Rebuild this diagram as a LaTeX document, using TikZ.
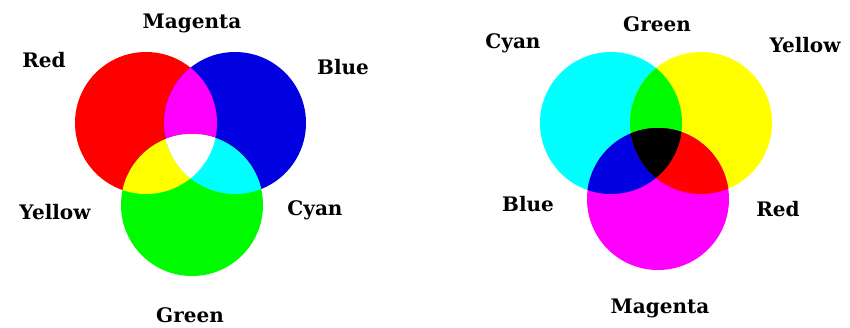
\documentclass[tikz,border=0pt]{standalone}
\usepackage{fontspec}
\setmainfont{DejaVu Serif}
\definecolor{cR}{RGB}{255,0,0}
\definecolor{cG}{RGB}{0,250,0}
\definecolor{cB}{RGB}{0,0,225}
\definecolor{cC}{RGB}{0,255,255}
\definecolor{cM}{RGB}{255,0,255}
\definecolor{cY}{RGB}{255,255,0}
\begin{document}
\begin{tikzpicture}[x=1pt,y=-1pt,
  lbl/.style={font=\fontsize{20}{24}\selectfont\bfseries, inner sep=0pt, text=black}]
\useasboundingbox (0,0) rectangle (850,327);
\def\R{71}
% ---------- left: additive ----------
\coordinate (LR) at (146,123);
\coordinate (LB) at (235,123);
\coordinate (LG) at (192,205);
\fill[cR] (LR) circle (\R);
\fill[cB] (LB) circle (\R);
\fill[cG] (LG) circle (\R);
\begin{scope}\clip (LR) circle (\R); \fill[cM] (LB) circle (\R); \end{scope}
\begin{scope}\clip (LR) circle (\R); \fill[cY] (LG) circle (\R); \end{scope}
\begin{scope}\clip (LB) circle (\R); \fill[cC] (LG) circle (\R); \end{scope}
\begin{scope}\clip (LR) circle (\R); \clip (LB) circle (\R); \fill[white] (LG) circle (\R); \end{scope}
\node[lbl] (lmag) at (192,23) {Magenta};
\node[lbl] (lred) at (44,60) {Red};
\node[lbl] (lblue) at (343,67) {Blue};
\node[lbl] (lyel) at (55,212) {Yellow};
\node[lbl] (lcyan) at (315,210) {Cyan};
\node[lbl] (lgreen) at (190,315) {Green};
% ---------- right: subtractive ----------
\coordinate (RC) at (611,123);
\coordinate (RY) at (701,123);
\coordinate (RM) at (658,199);
\fill[cC] (RC) circle (\R);
\fill[cY] (RY) circle (\R);
\fill[cM] (RM) circle (\R);
\begin{scope}\clip (RC) circle (\R); \fill[cG] (RY) circle (\R); \end{scope}
\begin{scope}\clip (RC) circle (\R); \fill[cB] (RM) circle (\R); \end{scope}
\begin{scope}\clip (RY) circle (\R); \fill[cR] (RM) circle (\R); \end{scope}
\begin{scope}\clip (RC) circle (\R); \clip (RY) circle (\R); \fill[black] (RM) circle (\R); \end{scope}
\node[lbl] (rgreen) at (657,24) {Green};
\node[lbl] (rcyan) at (513,43) {Cyan};
\node[lbl] (ryel) at (805,45) {Yellow};
\node[lbl] (rblue) at (528,204) {Blue};
\node[lbl] (rred) at (778,209) {Red};
\node[lbl] (rmag) at (660,308) {Magenta};
\end{tikzpicture}
\end{document}
